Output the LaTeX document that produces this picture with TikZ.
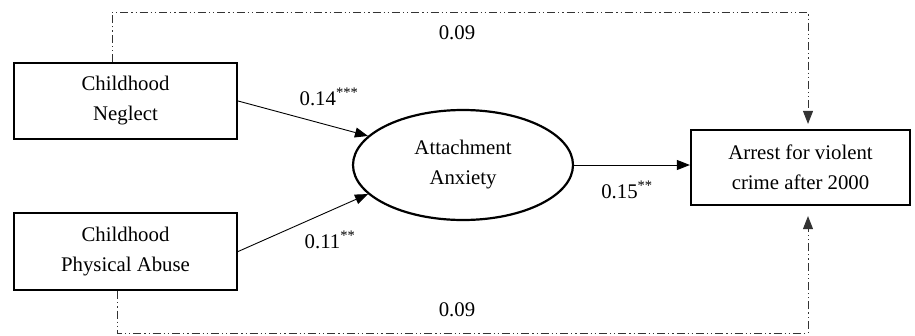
\documentclass[tikz,border=0pt]{standalone}
\usepackage{fontspec}
\setmainfont{Liberation Serif}
\usetikzlibrary{arrows.meta,shapes.geometric}
\begin{document}
\begin{tikzpicture}[x=1pt,y=-1pt,
  font=\fontsize{20.8}{30}\selectfont,
  varbox/.style={draw,line width=2.2pt,rectangle,align=center,inner sep=0pt},
  latent/.style={draw,line width=2.2pt,ellipse,align=center,inner sep=0pt,minimum width=220pt,minimum height=110pt},
  path/.style={line width=0.9pt,-{Triangle[length=13pt,width=10pt]}},
  direct/.style={line width=0.9pt,draw=black!80,dash pattern=on 8pt off 3pt on 1.2pt off 3pt on 1.2pt off 3pt,-{Triangle[length=13pt,width=10pt]}},
  coef/.style={inner sep=0pt}]
\useasboundingbox (0,0) rectangle (915,335);

% observed and latent variables
\node[varbox,minimum width=223pt,minimum height=76pt] (neg) at (125.5,101) {Childhood\\Neglect};
\node[varbox,minimum width=223pt,minimum height=77pt] (abu) at (125.5,251.5) {Childhood\\Physical Abuse};
\node[latent] (anx) at (463,165) {Attachment\\Anxiety};
\node[varbox,minimum width=219pt,minimum height=75pt] (arr) at (800.5,167.5) {Arrest for violent\\crime after 2000};

% indirect paths
\draw[path] (neg.east) -- (anx.163);
\draw[path] (abu.east) -- (anx.197);
\draw[path] (anx.east) -- (anx.east -| arr.west);

% direct paths
\coordinate (tl) at (112,12);
\coordinate (tr) at (808,12);
\coordinate (bl) at (117,333);
\coordinate (br) at (808,333);
\draw[direct,shorten >=5pt] (neg.north -| tl) -- (tl) -- (tr) -- (arr.north -| tr);
\draw[direct,shorten >=10pt] (abu.south -| bl) -- (bl) -- (br) -- (arr.south -| br);

% coefficients
\node[coef] (c1) at (329,97) {0.14\textsuperscript{***}};
\node[coef] (c2) at (330,240) {0.11\textsuperscript{**}};
\node[coef] (c3) at (627,190) {0.15\textsuperscript{**}};
\node[coef] (c4) at (457,33) {0.09};
\node[coef] (c5) at (457,310) {0.09};
\end{tikzpicture}
\end{document}
